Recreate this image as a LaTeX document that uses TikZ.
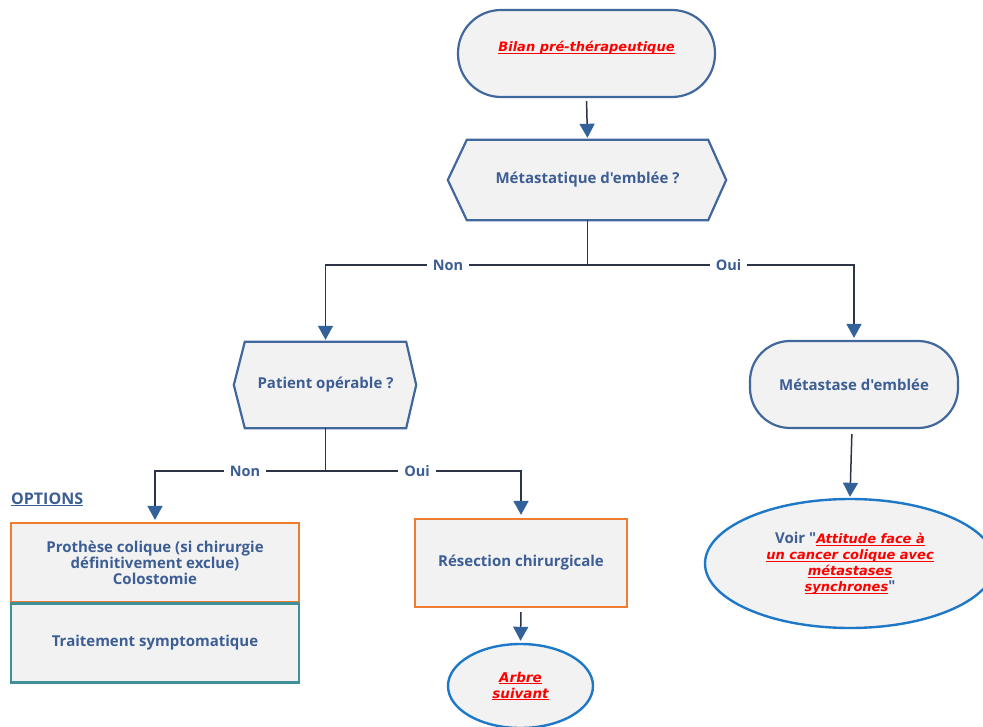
\documentclass[tikz,border=0pt]{standalone}
\usepackage{fontspec}
\setmainfont{Open Sans}[Ligatures=TeXOff]
\newfontfamily\linkfont{DejaVu Sans}[Ligatures=TeXOff]
\usetikzlibrary{arrows.meta,shapes.geometric,backgrounds}

\definecolor{txtblue}{HTML}{3D5E94}
\definecolor{edgeblue}{HTML}{41689C}
\definecolor{boxfill}{HTML}{F2F2F2}
\definecolor{wire}{HTML}{2E3447}
\definecolor{tipblue}{HTML}{33619A}
\definecolor{boxorange}{HTML}{ED7D31}
\definecolor{boxteal}{HTML}{3F9099}
\definecolor{ovalblue}{HTML}{1E78C8}
\definecolor{linkred}{HTML}{FF0000}

% red, italic, underlined reference text (underline crosses the descenders)
\newcommand\lnk[1]{{\color{linkred}\linkfont\bfseries\itshape
  \setbox0\hbox{#1}\rlap{\rule[-2.2pt]{\wd0}{0.9pt}}\box0}}

\tikzset{
  every node/.style={font=\bfseries\fontsize{15}{16}\selectfont, text=txtblue},
  shapeline/.style={draw=edgeblue, line width=2.2pt, fill=boxfill, line join=miter},
  terminal/.style={shapeline, rectangle, inner sep=0pt},
  hexlabel/.style={rectangle, inner sep=0pt},
  optbox/.style={rectangle, fill=boxfill, line width=2.2pt, inner sep=0pt, align=center},
  oval/.style={ellipse, draw=ovalblue, fill=boxfill, line width=2.4pt, inner sep=0pt, align=center},
  wireline/.style={draw=wire, line width=1.5pt},
  conn/.style={wireline, -{Triangle[width=15pt,length=14pt,color=tipblue,fill=tipblue]}},
  lbl/.style={fill=white, inner xsep=6pt, inner ysep=2pt, font=\bfseries\fontsize{14.5}{16}\selectfont},
}

\begin{document}
\begin{tikzpicture}[x=1pt, y=-1pt]
\useasboundingbox (0,0) rectangle (983,727);

% --- shapes ---
\node[terminal, minimum width=257pt, minimum height=87pt, rounded corners=43pt]
  (bilan) at (586.5,53.5) {\raisebox{1.5pt}[0pt][0pt]{\fontsize{13}{16}\selectfont\lnk{Bilan pré-thérapeutique}}};

\node[hexlabel, minimum width=241pt, minimum height=80pt] (metq) at (587.5,180) {Métastatique d'emblée ?};
\node[hexlabel, minimum width=161pt, minimum height=86pt] (oper) at (325.5,385) {Patient opérable ?};

\node[terminal, minimum width=208pt, minimum height=87pt, rounded corners=40pt]
  (meta) at (854,384.5) {Métastase d'emblée};

\node[optbox, draw=boxorange, minimum width=288pt, minimum height=79pt]
  (prot) at (155,562.5) {Prothèse colique (si chirurgie\\définitivement exclue)\\Colostomie};
\node[optbox, draw=boxteal, minimum width=288pt, minimum height=79pt]
  (trait) at (155,643) {Traitement symptomatique};

\node[anchor=base west, inner sep=0pt, font=\bfseries\fontsize{16}{16}\selectfont] (opts) at (11,504) {\underline{OPTIONS}};

\node[optbox, draw=boxorange, minimum width=212pt, minimum height=88pt]
  (resec) at (521,563) {Résection chirurgicale};

\node[oval, minimum width=145pt, minimum height=84pt] (arbre) at (520.5,686)
  {\fontsize{13.5}{15.5}\selectfont\lnk{Arbre}\\\fontsize{13.5}{15.5}\selectfont\lnk{suivant}};

\node[oval, minimum width=290pt, minimum height=129pt] (voir) at (850,563.5)
  {\fontsize{15}{16.5}\selectfont Voir "{\fontsize{13}{16.5}\selectfont\lnk{Attitude face à}}\\
   \fontsize{13}{16.5}\selectfont\lnk{un cancer colique avec}\\
   \fontsize{13}{16.5}\selectfont\lnk{métastases}\\
   \fontsize{13}{16.5}\selectfont\lnk{synchrones}\fontsize{15}{16.5}\selectfont"};

% hexagonal decision outlines, behind their labels
\begin{scope}[on background layer]
  \path[shapeline] (metq.north west) -- (metq.north east) -- ([xshift=18pt]metq.east)
    -- (metq.south east) -- (metq.south west) -- ([xshift=-19pt]metq.west) -- cycle;
  \path[shapeline] (oper.north west) -- (oper.north east) -- ([xshift=10pt]oper.east)
    -- (oper.south east) -- (oper.south west) -- ([xshift=-11pt]oper.west) -- cycle;
\end{scope}

% --- branch points ---
\coordinate (j1) at (587.5,265);
\coordinate (j2) at (325.5,471);

% --- connectors ---
\draw[conn, shorten <=3pt, shorten >=2pt] (bilan.south) -- (metq.north);
\draw[wireline] (metq.south) -- (j1);
\draw[conn, shorten >=2pt] (j1) -| (oper.north);
\draw[conn, shorten >=2pt] (j1) -| (meta.north);
\draw[wireline] (oper.south) -- (j2);
\draw[conn, shorten >=2pt] (j2) -| (prot.north);
\draw[conn, shorten >=3pt] (j2) -| (resec.north);
\draw[conn, shorten <=4pt, shorten >=2pt] (resec.south) -- (arbre.north);
\draw[conn, shorten <=5pt, shorten >=1pt] ([xshift=-2pt]meta.south) -- (voir.north);

% --- branch labels ---
\node[lbl] (non1) at (448,265) {Non};
\node[lbl] (oui1) at (728.5,265) {Oui};
\node[lbl] (non2) at (245,471) {Non};
\node[lbl] (oui2) at (417,471) {Oui};
\end{tikzpicture}
\end{document}
